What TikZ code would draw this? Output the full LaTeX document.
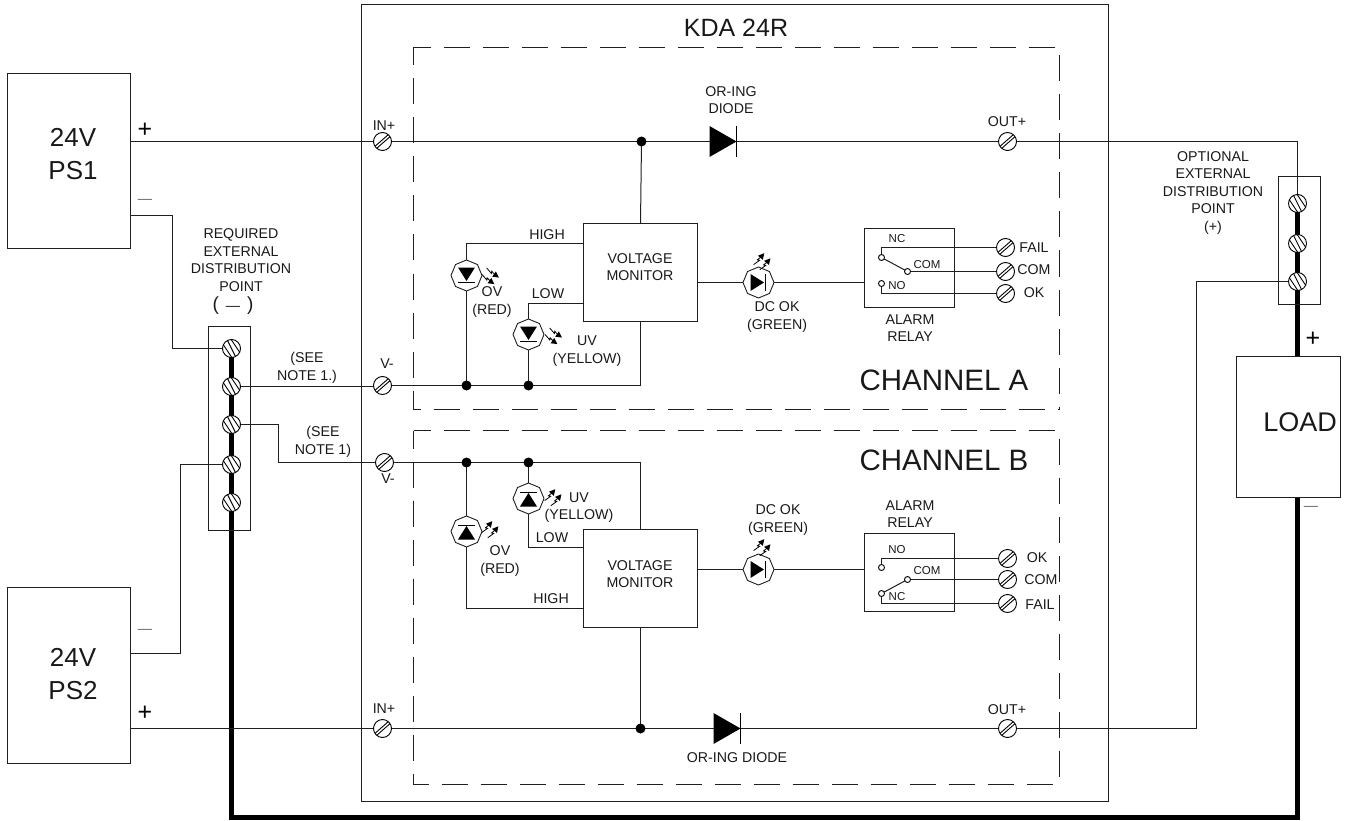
\documentclass[tikz,border=0pt]{standalone}
\usepackage{fontspec}
\setmainfont{Liberation Sans}
\usetikzlibrary{shapes.geometric,backgrounds}
\newcounter{tnum}
\colorlet{ink}{black!88}
\tikzset{
  box/.style={draw=ink,line width=1pt,inner sep=0pt,outer sep=0pt,anchor=north west},
  ghostbox/.style={inner sep=0pt,outer sep=0pt,anchor=north west},
  wire/.style={draw=ink,line width=1pt},
  thickwire/.style={draw=black,line width=5pt,line join=miter},
  dashline/.style={draw=ink,line width=1pt,dash pattern=on 26pt off 13pt},
  dotnode/.style={circle,fill=black,inner sep=0pt,minimum size=10pt},
  led/.style={regular polygon,regular polygon sides=8,shape border rotate=22.5,draw=ink,line width=0.9pt,inner sep=0pt,minimum size=31pt,fill=white},
  screwfw/.style={circle,draw=black,fill=white,line width=0.9pt,inner sep=0pt,minimum size=18pt,path picture={
    \draw[line width=0.9pt] ([shift={(-10,7)}]path picture bounding box.center)--([shift={(6,-7)}]path picture bounding box.center);
    \draw[line width=0.9pt] ([shift={(-6,7)}]path picture bounding box.center)--([shift={(10,-7)}]path picture bounding box.center);}},
  screwbk/.style={circle,draw=black,fill=white,line width=0.9pt,inner sep=0pt,minimum size=18pt,path picture={
    \draw[line width=0.9pt] ([shift={(-9,-5)}]path picture bounding box.center)--([shift={(1,10)}]path picture bounding box.center);
    \draw[line width=0.9pt] ([shift={(-5,-10)}]path picture bounding box.center)--([shift={(5,10)}]path picture bounding box.center);
    \draw[line width=0.9pt] ([shift={(-1,-10)}]path picture bounding box.center)--([shift={(9,5)}]path picture bounding box.center);}},
  contact/.style={circle,draw=black,fill=white,line width=0.9pt,inner sep=0pt,minimum size=6pt},
  lab/.style={inner sep=0pt,align=center,text=black!90,font=\fontsize{14.2}{17.5}\selectfont},
  smalllab/.style={lab,font=\fontsize{11.5}{14}\selectfont},
  biglab/.style={lab,font=\fontsize{26}{33}\selectfont},
  hugelab/.style={lab,font=\fontsize{29.5}{34}\selectfont},
  signlab/.style={lab,text=black,font=\fontsize{25}{25}\selectfont},
  graylab/.style={lab,text=black!60},
}
\newcommand{\TXT}[4][lab]{\stepcounter{tnum}\node[#1] (t\arabic{tnum}) at (#2,#3) {#4};}
\newcommand{\ARR}[3]{\begin{scope}[shift={(#1,#2)},rotate=#3]
  \foreach \o in {-4,4}{
    \draw[black,line width=0.8pt] (-8,\o-0.8)--(-1,\o+1)--(-2,\o-1)--(3,\o);
    \fill[black] (7.5,\o)--(1.5,\o+3.2)--(1.5,\o-3.2)--cycle;}
\end{scope}}
\newcommand{\LED}[4]{\node[led] (#1) at (#2,#3) {};
\begin{scope}[shift={(#2,#3)},rotate=#4]
  \fill[black] (-8,-8.5)--(-8,8.5)--(5.5,0)--cycle;
  \draw[black,line width=0.9pt] (6.5,-8.5)--(6.5,8.5);
\end{scope}}
\newcommand{\DIODE}[3]{\coordinate (#1) at (#2,#3);
\begin{scope}[shift={(#2,#3)}]
  \fill[black] (-14,-15.5)--(-14,15.5)--(13,0)--cycle;
  \draw[black,line width=1pt] (13,-15.5)--(13,15.5);
\end{scope}}
\begin{document}
\begin{tikzpicture}[x=1pt,y=-1pt]
\useasboundingbox (0,0) rectangle (1363,821);
\begin{scope}[shift={(0.5,0.5)}]
% boxes
\node[box,minimum width=123pt,minimum height=175pt] (ps1) at (7,73) {};
\node[box,minimum width=123pt,minimum height=176pt] (ps2) at (7,587) {};
\node[box,minimum width=104pt,minimum height=141pt] (load) at (1236,356) {};
\node[box,minimum width=747pt,minimum height=797pt] (kda) at (361,4) {};
\node[ghostbox,minimum width=646pt,minimum height=362pt] (cha) at (413,47) {};
\node[ghostbox,minimum width=646pt,minimum height=354pt] (chb) at (413,430) {};
\draw[dashline,dash phase=9pt] (cha.north west)--(cha.north east)--(cha.south east);
\draw[dashline,dash phase=8pt] (cha.north west)--(cha.south west)--(cha.south east);
\draw[dashline,dash phase=9pt] (chb.north west)--(chb.north east)--(chb.south east);
\draw[dashline,dash phase=8pt] (chb.north west)--(chb.south west)--(chb.south east);
\node[box,minimum width=42pt,minimum height=204pt] (ldist) at (208,326) {};
\node[box,minimum width=42pt,minimum height=128pt] (rdist) at (1278,176) {};
\node[box,minimum width=114pt,minimum height=98pt] (mona) at (583,223) {};
\node[box,minimum width=114pt,minimum height=98pt] (monb) at (583,529) {};
\node[box,minimum width=90pt,minimum height=79pt] (rela) at (864,228) {};
\node[box,minimum width=90pt,minimum height=78pt] (relb) at (864,533) {};
% screws
\foreach \n/\y in {ls1/348,ls2/386,ls3/424,ls4/464,ls5/502}{\node[screwbk] (\n) at (231,\y) {};}
\foreach \n/\y in {rs1/203,rs2/243,rs3/281}{\node[screwbk] (\n) at (1297,\y) {};}
\node[screwfw] (ina) at (382,141) {};
\node[screwfw] (outa) at (1007,141) {};
\node[screwfw] (va) at (382,385) {};
\node[screwfw] (vb) at (384,462) {};
\node[screwfw] (inb) at (382,728) {};
\node[screwfw] (outb) at (1007,728) {};
\node[screwfw] (faila) at (1005,247) {};
\node[screwfw] (coma) at (1005,271) {};
\node[screwfw] (oka) at (1005,293) {};
\node[screwfw] (okb) at (1007,558) {};
\node[screwfw] (comb) at (1007,579) {};
\node[screwfw] (failb) at (1007,603) {};
% dots
\node[dotnode] (ja) at (641,141) {};
\node[dotnode] (jb) at (640,728) {};
\node[dotnode] (da1) at (466,385) {};
\node[dotnode] (da2) at (528,385) {};
\node[dotnode] (db1) at (466,462) {};
\node[dotnode] (db2) at (528,462) {};
% LEDs
\LED{ledova}{466}{275}{-90}
\LED{leduva}{528}{334}{-90}
\LED{leddca}{758}{282}{0}
\LED{ledovb}{466}{531}{90}
\LED{leduvb}{528}{498}{90}
\LED{leddcb}{758}{569}{0}
\ARR{490}{276}{-35}
\ARR{553}{336}{-35}
\ARR{762}{261}{50}
\ARR{762}{547}{50}
\ARR{490}{529}{50}
\ARR{553}{497}{50}
% diodes
\DIODE{dioa}{723}{141}
\DIODE{diob}{727}{728}
% contacts
\node[contact] (nca) at (881,257) {};
\node[contact] (cca) at (907,271) {};
\node[contact] (noa) at (881,283) {};
\node[contact] (nob) at (881,567) {};
\node[contact] (ccb) at (907,579) {};
\node[contact] (ncb) at (881,593) {};
% corners
\coordinate (pm1) at (172,215);
\coordinate (pm2) at (180,653);
\coordinate (tw) at (278,424);
\coordinate (bot) at (1297,817);
\coordinate (bw) at (1196,281);
% wires
\begin{scope}[on background layer]
\draw[thickwire] (rs1.center)--(rs3.center)--(rs3 |- load.north);
\draw[thickwire] (rs3 |- load.south)--(bot)--(ls5 |- bot)--(ls1.center);
\draw[wire] (ps1.east |- ina)--(ina.center)--(outa.center)--(rs1 |- outa)--(rs1.center);
\draw[wire] (ps1.east |- pm1)--(pm1)--(pm1 |- ls1)--(ls1.center);
\draw[wire] (ps2.east |- pm2)--(pm2)--(pm2 |- ls4)--(ls4.center);
\draw[wire] (ls2.center)--(ls2 -| va)--(va.center)--(va -| mona)--(mona.south |- va)--(mona.south);
\draw[wire] (ls3.center)--(tw)--(tw |- vb)--(vb.center)--(monb.north |- vb)--(monb.north);
\draw[wire] (ps2.east |- inb)--(inb.center)--(outb.center)--(bw |- outb)--(bw)--(rs3.center);
\draw[wire] (ja.center)--(mona.north);
\draw[wire] (jb.center)--(monb.south);
\draw[wire] (da1.center)--(ledova.center)--(ledova |- 0,243)--(mona.west |- 0,243);
\draw[wire] (da2.center)--(leduva.center)--(leduva |- 0,303)--(mona.west |- 0,303);
\draw[wire] (db1.center)--(ledovb.center)--(ledovb |- 0,608)--(monb.west |- 0,608);
\draw[wire] (db2.center)--(leduvb.center)--(leduvb |- 0,547)--(monb.west |- 0,547);
\draw[wire] (mona.east |- leddca)--(leddca.center)--(rela.west |- leddca);
\draw[wire] (monb.east |- leddcb)--(leddcb.center)--(relb.west |- leddcb);
\draw[wire] (nca.center)--(nca |- faila)--(faila.center);
\draw[wire] (cca.center)--(coma.center);
\draw[wire] (noa.center)--(noa |- oka)--(oka.center);
\draw[wire] (nca.center)--(cca.center);
\draw[wire] (nob.center)--(nob |- okb)--(okb.center);
\draw[wire] (ccb.center)--(comb.center);
\draw[wire] (ncb.center)--(ncb |- failb)--(failb.center);
\draw[wire] (ncb.center)--(ccb.center);
\end{scope}
\end{scope}
% texts
\TXT[biglab]{736}{28}{\fontsize{25}{30}\selectfont KDA 24R}
\TXT[biglab]{73}{154}{24V\\PS1}
\TXT[biglab]{73}{674}{24V\\PS2}
\TXT[biglab]{1300}{422}{\fontsize{27}{33}\selectfont LOAD}
\TXT[hugelab]{944}{380}{CHANNEL A}
\TXT[hugelab]{944}{460}{CHANNEL B}
\TXT[signlab]{145}{130}{+}
\TXT[signlab]{145}{713}{+}
\TXT[signlab]{1313}{339}{+}
\TXT[graylab]{145}{201}{---}
\TXT[graylab]{145}{631}{---}
\TXT[graylab]{1311}{508}{---}
\TXT{731}{100}{OR-ING\\DIODE}
\TXT{737}{758}{OR-ING DIODE}
\TXT{384}{126}{IN+}
\TXT{384}{709}{IN+}
\TXT{1007}{122}{OUT+}
\TXT{1007}{710}{OUT+}
\TXT{387}{364}{V-}
\TXT{388}{479}{V-}
\TXT{307}{368}{(SEE\\NOTE 1.)}
\TXT{323}{442}{(SEE\\NOTE 1)}
\TXT{241}{260}{REQUIRED\\EXTERNAL\\DISTRIBUTION\\POINT}
\TXT[lab]{233}{306}{{\fontsize{19}{19}\selectfont(}\hspace{7pt}---\hspace{7pt}{\fontsize{19}{19}\selectfont)}}
\TXT{1213}{193}{OPTIONAL\\EXTERNAL\\DISTRIBUTION\\POINT\\(+)}
\TXT{547}{235}{HIGH}
\TXT{548}{294}{LOW}
\TXT{492}{302}{OV\\(RED)}
\TXT{587}{351}{UV\\(YELLOW)}
\TXT{640}{267}{VOLTAGE\\MONITOR}
\TXT{777}{317}{DC OK\\(GREEN)}
\TXT{910}{328}{ALARM\\RELAY}
\TXT{1034}{248}{FAIL}
\TXT{1034}{270}{COM}
\TXT{1034}{293}{OK}
\TXT[smalllab]{897}{239}{NC}
\TXT[smalllab]{927}{265}{COM}
\TXT[smalllab]{897}{286}{NO}
\TXT{579}{498}{UV}
\TXT{579}{516}{(YELLOW)}
\TXT{552}{538}{LOW}
\TXT{500}{561}{OV\\(RED)}
\TXT{551}{599}{HIGH}
\TXT{640}{574}{VOLTAGE\\MONITOR}
\TXT{778}{520}{DC OK\\(GREEN)}
\TXT{910}{514}{ALARM\\RELAY}
\TXT{1037}{558}{OK}
\TXT{1041}{580}{COM}
\TXT{1040}{605}{FAIL}
\TXT[smalllab]{897}{550}{NO}
\TXT[smalllab]{927}{571}{COM}
\TXT[smalllab]{897}{597}{NC}
\end{tikzpicture}
\end{document}
